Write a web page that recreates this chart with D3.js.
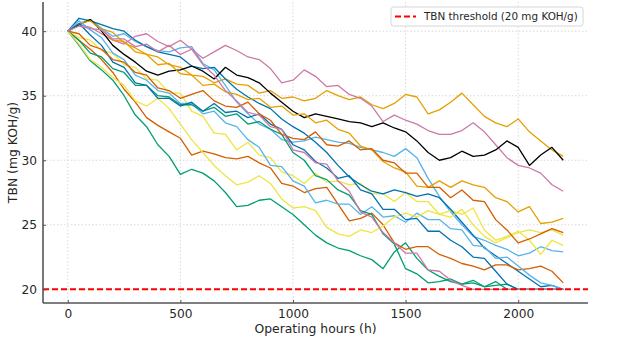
<!DOCTYPE html>
<html>
<head>
<meta charset="utf-8">
<script src="https://cdn.jsdelivr.net/npm/d3@7.9.0/dist/d3.min.js"></script>
<style>
  body { margin: 0; background: #fff; }
  svg { display: block; font-family: "DejaVu Sans", sans-serif; }
</style>
</head>
<body>
<div id="chart"></div>
<script>
// sampling grid (operating hours)
const hours = [0, 50, 100, 150, 200, 250, 300, 350, 400, 450, 500, 550, 600, 650, 700, 750, 800, 850, 900, 950,
  1000, 1050, 1100, 1150, 1200, 1250, 1300, 1350, 1400, 1450, 1500, 1550, 1600, 1650, 1700, 1750, 1800, 1850, 1900, 1950,
  2000, 2050, 2100, 2150, 2200];

// TBN per engine, one array per run
const orangeA = [40, 40.5, 40.9, 40.2, 39.9, 39.1, 38.7, 38.2, 38.0, 37.4, 37.2, 36.6, 36.5, 36.0, 36.3, 35.9, 35.8, 35.2, 35.4, 34.8,
  34.9, 34.6, 34.8, 35.4, 35.0, 34.7, 34.9, 34.3, 34.0, 34.4, 35.1, 34.9, 33.6, 33.9, 34.5, 35.2, 34.3, 33.4, 32.9, 32.6,
  33.2, 32.2, 31.5, 30.8, 30.3];
const skyA = [40, 40.6, 40.9, 40.2, 39.6, 39.8, 39.2, 38.8, 38.5, 38.4, 38.7, 38.8, 37.5, 37.0, 35.8, 34.5, 33.6, 32.8, 32.4, 31.6,
  31.4, 31.5, 31.8, 31.6, 31.4, 31.3, 31.0, 30.8, 30.6, 30.3, 30.9, 30.2, 28.6, 27.2, 26.0, 25.0, 24.1, 23.8, 23.4, 23.1,
  22.6, 22.8, 23.3, 23.0, 22.9];
const greenA = [40, 38.9, 37.7, 37.0, 36.2, 35.0, 33.5, 32.6, 31.2, 30.3, 28.9, 29.3, 29.0, 28.4, 27.5, 26.4, 26.5, 26.9, 27.0, 26.4,
  25.8, 25.0, 24.2, 23.6, 23.2, 23.0, 22.6, 22.3, 21.6, 22.9, 23.6, 22.4, 21.5, 21.0, 20.6, 20.4, 20.5, 20.2, 20.6, 20.0,
  20, 20, 20, 20, 20];
const yellowA = [40, 39.5, 39.3, 38.5, 38.3, 37.4, 37.2, 36.3, 36.2, 35.2, 35.2, 33.8, 33.4, 32.1, 32.0, 30.8, 31.4, 30.4, 30.2, 29.1,
  28.8, 28.2, 29.0, 28.3, 28.4, 28.1, 28.2, 27.4, 27.4, 26.8, 27.5, 26.8, 26.8, 25.8, 26.1, 25.8, 26.3, 24.6, 23.8, 24.1,
  24.5, 23.8, 22.7, 23.8, 23.4];
const blueA = [40, 41.0, 40.8, 40.5, 40.2, 40.0, 39.3, 38.8, 38.4, 38.2, 38.0, 37.3, 37.1, 37.2, 36.3, 35.5, 34.9, 34.4, 34.0, 33.2,
  32.6, 32.1, 31.4, 30.6, 29.6, 28.7, 28.1, 27.6, 27.4, 27.7, 27.5, 27.2, 27.4, 27.1, 26.2, 25.2, 24.2, 23.2, 22.6, 22.0,
  21.4, 20.8, 20.2, 20.3, 20.0];
const vermA = [40, 39.3, 38.6, 37.8, 36.8, 35.5, 34.5, 33.3, 32.7, 32.2, 31.7, 30.4, 30.7, 30.5, 30.2, 30.1, 30.3, 29.8, 29.4, 28.2,
  28.0, 27.5, 27.8, 27.9, 26.6, 25.3, 25.5, 25.9, 25.0, 23.6, 23.1, 23.3, 23.3, 22.7, 22.4, 22.0, 21.8, 21.5, 21.9, 21.9,
  21.5, 21.6, 21.8, 21.4, 20.5];
const pinkA = [40, 40.5, 40.3, 39.8, 39.3, 39.0, 39.6, 39.8, 39.2, 38.8, 39.3, 38.6, 37.9, 38.4, 38.9, 38.5, 38.0, 37.8, 37.1, 36.0,
  36.2, 37.0, 36.5, 35.7, 35.8, 35.1, 34.8, 34.2, 33.0, 33.5, 33.1, 32.8, 32.3, 32.0, 32.0, 32.3, 32.9, 32.2, 31.2, 30.2,
  29.6, 29.4, 29.0, 28.1, 27.6];
const black = [40, 40.5, 40.9, 40.0, 38.9, 38.2, 37.6, 36.9, 36.6, 36.9, 37.0, 37.3, 36.9, 36.3, 37.2, 36.6, 36.4, 36.0, 35.2, 34.5,
  33.8, 33.3, 33.6, 33.4, 33.2, 33.0, 32.9, 32.6, 32.9, 32.5, 32.2, 31.5, 30.6, 30.0, 30.2, 30.7, 30.3, 30.4, 30.8, 31.5,
  31.0, 29.6, 30.4, 31.0, 30.0];
const orangeB = [40, 40.6, 40.8, 40.1, 39.3, 39.2, 38.4, 38.2, 37.4, 37.5, 36.7, 36.6, 35.8, 35.9, 35.3, 35.1, 34.7, 34.8, 34.1, 34.2,
  33.5, 33.6, 32.9, 33.1, 32.4, 32.1, 31.1, 30.8, 29.9, 29.4, 29.1, 28.0, 27.9, 28.4, 27.9, 28.4, 28.1, 27.9, 27.1, 26.8,
  26.0, 26.4, 25.1, 25.2, 25.5];
const skyB = [40, 40.8, 40.1, 39.5, 38.3, 37.8, 36.6, 36.2, 35.4, 35.2, 34.4, 34.4, 33.6, 33.8, 32.9, 32.6, 31.6, 31.0, 29.6, 29.5,
  28.4, 28.0, 26.7, 26.9, 26.6, 26.6, 25.8, 26.4, 25.6, 25.7, 25.2, 25.9, 25.4, 25.4, 24.7, 24.6, 23.4, 23.3, 22.4, 22.5,
  21.8, 21.1, 20.5, 20.3, 20.0];
const greenB = [40, 39.3, 38.3, 38.0, 37.1, 36.8, 35.8, 35.8, 35.0, 34.9, 34.3, 34.3, 33.8, 34.1, 33.4, 33.6, 32.8, 33.0, 32.4, 32.0,
  30.6, 30.0, 28.8, 28.5, 27.7, 27.3, 26.1, 25.8, 24.3, 23.5, 21.6, 21.2, 20.5, 20.6, 20.8, 20.4, 20.7, 20.2, 20.3, 20.4,
  20, 20, 20, 20, 20];
const yellowB = [40, 39.0, 37.8, 37.2, 36.4, 35.8, 34.6, 34.2, 34.8, 34.0, 32.8, 31.6, 30.6, 29.6, 28.8, 28.1, 28.3, 28.8, 28.2, 27.0,
  26.3, 26.4, 26.1, 24.8, 24.3, 24.1, 24.6, 24.4, 24.9, 25.6, 25.9, 25.6, 26.1, 25.8, 25.6, 26.2, 25.0, 24.1, 23.6, 24.0,
  24.4, 24.6, 24.4, 24.6, 24.2];
const blueB = [40, 40.6, 39.7, 38.9, 37.6, 37.2, 36.0, 35.8, 34.8, 34.8, 34.2, 34.5, 33.8, 34.4, 33.7, 33.8, 33.3, 33.6, 32.8, 32.4,
  31.2, 30.8, 29.9, 29.4, 28.6, 28.8, 27.7, 27.4, 26.2, 26.2, 25.4, 25.5, 24.5, 24.5, 23.8, 23.3, 22.5, 22.4, 21.4, 20.4,
  20, 20, 20, 20, 20];
const vermB = [40, 39.8, 38.9, 38.6, 37.8, 37.6, 36.8, 36.6, 35.6, 35.4, 34.8, 35.1, 35.4, 34.6, 34.2, 34.1, 34.5, 33.6, 33.1, 32.0,
  31.7, 31.6, 32.2, 31.2, 31.1, 31.5, 30.8, 30.9, 30.0, 29.8, 29.0, 29.0, 27.9, 27.9, 27.1, 27.7, 26.9, 26.8, 25.4, 24.6,
  23.6, 23.9, 24.3, 24.7, 24.4];
const pinkB = [40, 40.4, 40.2, 40.1, 39.4, 39.4, 38.8, 39.0, 38.4, 38.9, 38.2, 38.6, 37.4, 36.6, 35.4, 34.6, 33.7, 33.5, 32.6, 32.4,
  30.8, 30.6, 29.8, 29.7, 28.4, 27.6, 26.0, 25.6, 24.4, 23.6, 22.8, 22.8, 21.5, 21.4, 20.7, 20.3, 20, 20, 20, 20,
  20, 20, 20, 20, 20];

// drawing order follows the color cycle
const runs = [orangeA, skyA, greenA, yellowA, blueA, vermA, pinkA, black,
  orangeB, skyB, greenB, yellowB, blueB, vermB, pinkB];
const palette = ['#E69F00', '#56B4E9', '#009E73', '#F0E442', '#0072B2', '#D55E00', '#CC79A7', '#000000'];

const threshold = 20;
const xTicks = [0, 500, 1000, 1500, 2000];
const yTicks = [20, 25, 30, 35, 40];

const width = 627;
const height = 341;
const margin = { top: 2, right: 39, bottom: 38, left: 43 };

const svg = d3.select('#chart')
  .append('svg')
  .attr('width', width)
  .attr('height', height);

const x = d3.scaleLinear()
  .domain([-110, 2310])
  .range([margin.left, width - margin.right]);
const y = d3.scaleLinear()
  .domain([18.94, 42.26])
  .range([height - margin.bottom, margin.top]);

// dotted grid
const grid = svg.append('g').attr('stroke', '#cfcfcf').attr('stroke-width', 0.8)
  .attr('stroke-dasharray', '1.5,2');
grid.selectAll('.vx').data(xTicks).join('line')
  .attr('x1', d => x(d)).attr('x2', d => x(d))
  .attr('y1', margin.top).attr('y2', height - margin.bottom);
grid.selectAll('.hy').data(yTicks).join('line')
  .attr('x1', margin.left).attr('x2', width - margin.right)
  .attr('y1', d => y(d)).attr('y2', d => y(d));

// one line per run
const line = d3.line()
  .x((d, i) => x(hours[i]))
  .y(d => y(d));

svg.append('g')
  .selectAll('path')
  .data(runs)
  .join('path')
  .attr('d', d => line(d))
  .attr('fill', 'none')
  .attr('stroke', (d, i) => palette[i % palette.length])
  .attr('stroke-width', 1.3)
  .attr('stroke-linejoin', 'round');

// threshold line
svg.append('line')
  .attr('x1', margin.left).attr('x2', width - margin.right)
  .attr('y1', y(threshold)).attr('y2', y(threshold))
  .attr('stroke', '#ff0000')
  .attr('stroke-width', 2)
  .attr('stroke-dasharray', '6,3');

// axes
const xAxis = d3.axisBottom(x).tickValues(xTicks).tickFormat(d3.format('d'))
  .tickSize(-3).tickPadding(6);
const yAxis = d3.axisLeft(y).tickValues(yTicks).tickFormat(d3.format('d'))
  .tickSize(-3).tickPadding(6);

const gx = svg.append('g')
  .attr('transform', `translate(0,${height - margin.bottom})`)
  .call(xAxis);
const gy = svg.append('g')
  .attr('transform', `translate(${margin.left},0)`)
  .call(yAxis);

[gx, gy].forEach(g => {
  g.select('.domain').attr('stroke', '#555').attr('stroke-width', 1.6);
  g.selectAll('.tick line').attr('stroke', '#555');
  g.selectAll('.tick text')
    .attr('fill', '#262626')
    .style('font-size', '12.2px')
    .style('font-family', '"DejaVu Sans", sans-serif');
});
gx.select('.domain').attr('d', `M${margin.left},0H${width - margin.right}`);
gy.select('.domain').attr('d', `M0,${height - margin.bottom}V${margin.top}`);

// axis titles
svg.append('text')
  .attr('x', (margin.left + width - margin.right) / 2)
  .attr('y', 333)
  .attr('text-anchor', 'middle')
  .attr('fill', '#262626')
  .style('font-size', '12.4px')
  .text('Operating hours (h)');

svg.append('text')
  .attr('transform', `translate(17,${(margin.top + height - margin.bottom) / 2}) rotate(-90)`)
  .attr('text-anchor', 'middle')
  .attr('fill', '#262626')
  .style('font-size', '12.4px')
  .text('TBN (mg KOH/g)');

// legend
const legend = svg.append('g').attr('transform', 'translate(391,7)');
legend.append('rect')
  .attr('width', 192).attr('height', 19)
  .attr('rx', 2.5)
  .attr('fill', '#fff')
  .attr('fill-opacity', 0.85)
  .attr('stroke', '#d6d6d6');
legend.append('line')
  .attr('x1', 4).attr('x2', 25)
  .attr('y1', 9.5).attr('y2', 9.5)
  .attr('stroke', '#ff0000')
  .attr('stroke-width', 2)
  .attr('stroke-dasharray', '6,3');
legend.append('text')
  .attr('x', 33).attr('y', 13.3)
  .attr('fill', '#262626')
  .style('font-size', '10.4px')
  .text('TBN threshold (20 mg KOH/g)');
</script>
</body>
</html>
